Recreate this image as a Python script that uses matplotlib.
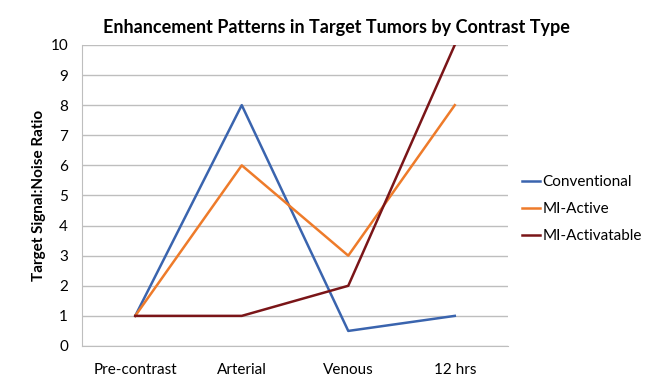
import matplotlib
matplotlib.use("Agg")
import matplotlib.pyplot as plt

plt.rcParams['font.family'] = ['Lato', 'DejaVu Sans']

phases = ['Pre-contrast', 'Arterial', 'Venous', '12 hrs']
conventional = [1, 8, 0.5, 1]
mi_active = [1, 6, 3, 8]
mi_activatable = [1, 1, 2, 10]

fig = plt.figure(figsize=(6.72, 3.84), dpi=100)
ax = fig.add_axes([0.122, 0.099, 0.634, 0.784])

x = range(len(phases))
ax.plot(x, conventional, color='#3A64AE', lw=1.8, label='Conventional')
ax.plot(x, mi_active, color='#EE7B2A', lw=1.8, label='MI-Active')
ax.plot(x, mi_activatable, color='#7A1518', lw=1.8, label='MI-Activatable')

ax.set_xlim(-0.5, 3.5)
ax.set_ylim(0, 10)
ax.set_yticks(range(0, 11))
ax.set_xticks(list(x))
ax.set_xticklabels(phases)
ax.tick_params(axis='both', length=0, labelsize=11, colors='black')
ax.tick_params(axis='x', pad=12)
ax.tick_params(axis='y', pad=10)
ax.grid(axis='y', color='#BEBEBE', lw=1)
ax.set_axisbelow(True)
for s in ['top', 'right']:
    ax.spines[s].set_visible(False)
for s in ['left', 'bottom']:
    ax.spines[s].set_color('#BEBEBE')

ax.set_ylabel('Target Signal:Noise Ratio', fontsize=11, fontweight='bold', labelpad=3)
fig.suptitle('Enhancement Patterns in Target Tumors by Contrast Type', fontsize=13,
             fontweight='bold', x=0.5, y=0.95)

ax.legend(loc='center left', bbox_to_anchor=(1.0, 0.455), frameon=False, fontsize=11,
          handlelength=1.2, handletextpad=0.15, labelspacing=0.85)

fig.savefig('out.png', dpi=100)
